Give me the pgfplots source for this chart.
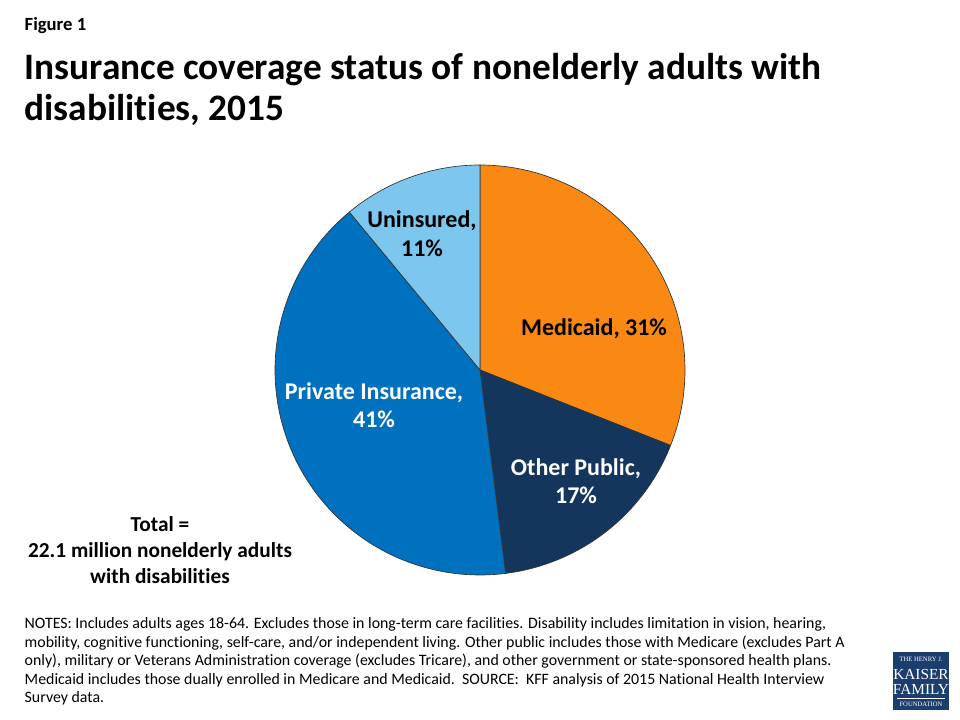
\documentclass[border=0pt]{standalone}
\usepackage{pgfplots}
\pgfplotsset{compat=1.18}
\usepackage{fontspec}
\setmainfont[Ligatures=NoCommon]{Carlito}
\newfontfamily\logofont{Liberation Serif}

\definecolor{medicaid}{RGB}{250,137,20}
\definecolor{otherpub}{RGB}{20,54,93}
\definecolor{private}{RGB}{0,113,191}
\definecolor{uninsured}{RGB}{125,198,238}
\definecolor{kff}{RGB}{28,62,110}

% pie centre and radius in pixel units (y measured from the bottom)
\def\cx{480}
\def\cy{350}
\def\rr{205}

\begin{document}
\begin{tikzpicture}
\begin{axis}[
    scale only axis,
    width=720pt, height=540pt,
    xmin=0, xmax=960, ymin=0, ymax=720,
    hide axis, clip=false
]
\addplot[draw=none] coordinates {(0,0) (960,720)};

% slices, clockwise from 12 o'clock: Medicaid 31, Other Public 17, Private 41, Uninsured 11
\addplot[fill=medicaid, draw=black!80, line width=0.5pt, domain={90-3.6*31}:90, samples=80, variable=\t]
    ({\cx+\rr*cos(t)},{\cy+\rr*sin(t)}) -- (\cx,\cy) -- cycle;
\addplot[fill=otherpub, draw=black!80, line width=0.5pt, domain={90-3.6*(31+17)}:{90-3.6*31}, samples=50, variable=\t]
    ({\cx+\rr*cos(t)},{\cy+\rr*sin(t)}) -- (\cx,\cy) -- cycle;
\addplot[fill=private, draw=black!80, line width=0.5pt, domain={90-3.6*(31+17+41)}:{90-3.6*(31+17)}, samples=100, variable=\t]
    ({\cx+\rr*cos(t)},{\cy+\rr*sin(t)}) -- (\cx,\cy) -- cycle;
\addplot[fill=uninsured, draw=black!80, line width=0.5pt, domain={90-3.6*100}:{90-3.6*(31+17+41)}, samples=40, variable=\t]
    ({\cx+\rr*cos(t)},{\cy+\rr*sin(t)}) -- (\cx,\cy) -- cycle;

% slice labels
\node[font=\fontsize{18}{21}\selectfont\bfseries, anchor=base] at (594,{720-336}) {Medicaid, 31\%};
\node[font=\fontsize{18}{21}\selectfont\bfseries, anchor=base, text=white] at (576,{720-476}) {Other Public,};
\node[font=\fontsize{18}{21}\selectfont\bfseries, anchor=base, text=white] at (576,{720-504}) {17\%};
\node[font=\fontsize{18}{21}\selectfont\bfseries, anchor=base, text=white] at (374,{720-400}) {Private Insurance,};
\node[font=\fontsize{18}{21}\selectfont\bfseries, anchor=base, text=white] at (374,{720-428}) {41\%};
\node[font=\fontsize{18}{21}\selectfont\bfseries, anchor=base] at (422,{720-228}) {Uninsured,};
\node[font=\fontsize{18}{21}\selectfont\bfseries, anchor=base] at (422,{720-257}) {11\%};

% titles
\node[font=\fontsize{14}{16}\selectfont\bfseries, anchor=base west] at (20,{720-31}) {Figure 1};
\node[font=\fontsize{28}{30}\selectfont\bfseries, anchor=base west] at (20,{720-80}) {Insurance coverage status of nonelderly adults with};
\node[font=\fontsize{28}{30}\selectfont\bfseries, anchor=base west] at (20,{720-121}) {disabilities, 2015};

% total
\node[font=\fontsize{16}{19}\selectfont\bfseries, anchor=base] at (160,{720-532}) {Total =};
\node[font=\fontsize{16}{19}\selectfont\bfseries, anchor=base] at (160,{720-558}) {22.1 million nonelderly adults};
\node[font=\fontsize{16}{19}\selectfont\bfseries, anchor=base] at (160,{720-584}) {with disabilities};

% notes
\node[font=\fontsize{11.9}{14}\selectfont, anchor=base west] at (20,{720-629}) {NOTES: Includes adults ages 18-64. Excludes those in long-term care facilities. Disability includes limitation in vision, hearing,};
\node[font=\fontsize{11.9}{14}\selectfont, anchor=base west] at (20,{720-647.5}) {mobility, cognitive functioning, self-care, and/or independent living. Other public includes those with Medicare (excludes Part A};
\node[font=\fontsize{11.9}{14}\selectfont, anchor=base west] at (20,{720-666}) {only), military or Veterans Administration coverage (excludes Tricare), and other government or state-sponsored health plans.};
\node[font=\fontsize{11.9}{14}\selectfont, anchor=base west] at (20,{720-684.5}) {Medicaid includes those dually enrolled in Medicare and Medicaid.\ \ SOURCE:\ \ KFF analysis of 2015 National Health Interview};
\node[font=\fontsize{11.9}{14}\selectfont, anchor=base west] at (20,{720-703}) {Survey data.};

% logo
\fill[kff] (893,{720-652}) rectangle (949,{720-710});
\node[font=\logofont\fontsize{5}{6}\selectfont, text=white, anchor=base] at (921,{720-662}) {THE HENRY J.};
\node[font=\logofont\fontsize{11.5}{12}\selectfont, text=white, anchor=base] at (921,{720-680}) {KAISER};
\node[font=\logofont\fontsize{11.5}{12}\selectfont, text=white, anchor=base] at (921,{720-695}) {FAMILY};
\draw[white, line width=0.3pt] (897,{720-698.5}) -- (945,{720-698.5});
\node[font=\logofont\fontsize{5}{6}\selectfont, text=white, anchor=base] at (921,{720-706.5}) {FOUNDATION};
\end{axis}
\end{tikzpicture}
\end{document}
